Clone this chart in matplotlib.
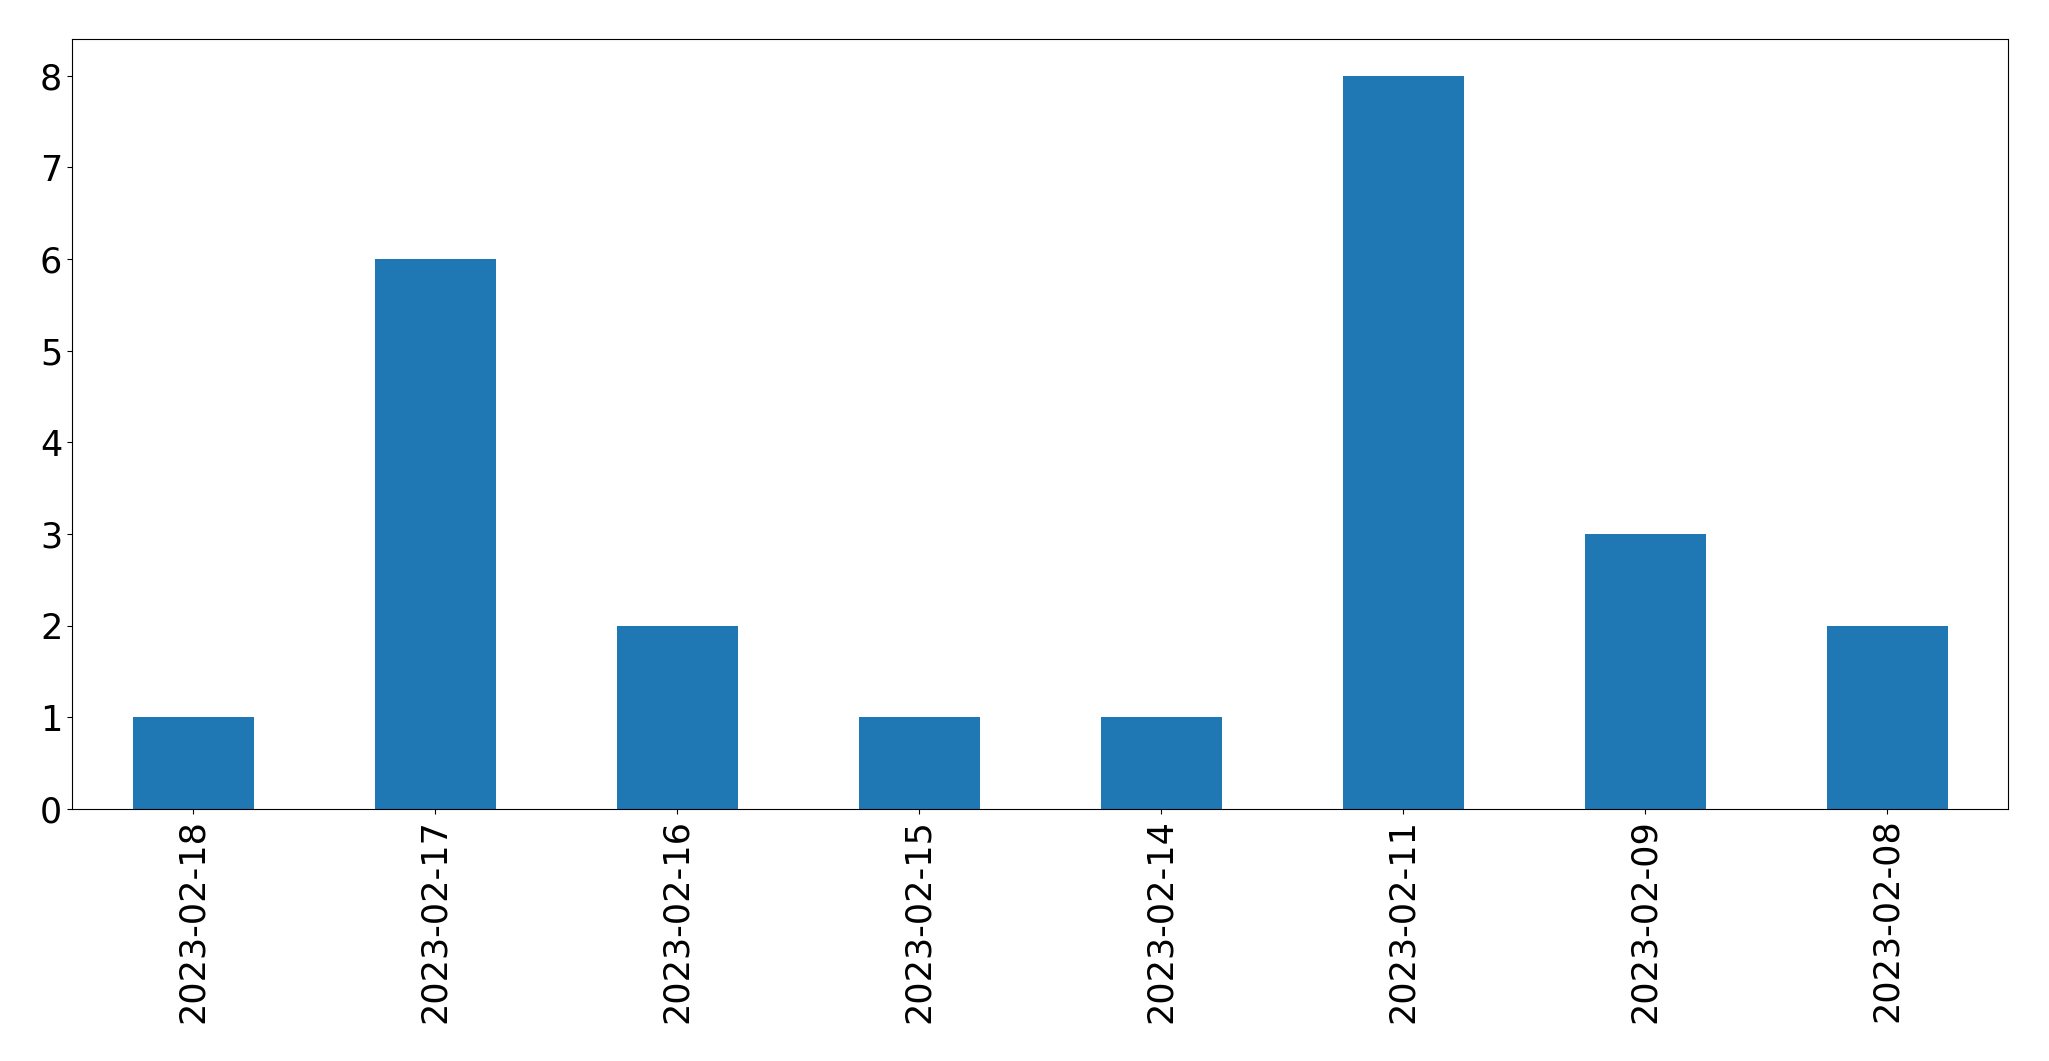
import matplotlib
matplotlib.use("Agg")
import matplotlib.pyplot as plt
import pandas as pd

# 日付ごとの件数
dates = ["2023-02-18", "2023-02-17", "2023-02-16", "2023-02-15",
         "2023-02-14", "2023-02-11", "2023-02-09", "2023-02-08"]
counts = [1, 6, 2, 1, 1, 8, 3, 2]

s = pd.Series(counts, index=dates)

fig, ax = plt.subplots(figsize=(20.49, 10.61), dpi=100)
s.plot(kind="bar", ax=ax, color="#1f77b4", width=0.5)
ax.tick_params(axis="both", labelsize=25.2)
ax.set_xlabel("")

fig.subplots_adjust(left=72/2049, right=2008/2049, top=1-39/1061, bottom=1-809/1061)
fig.savefig("out.png", dpi=100)
